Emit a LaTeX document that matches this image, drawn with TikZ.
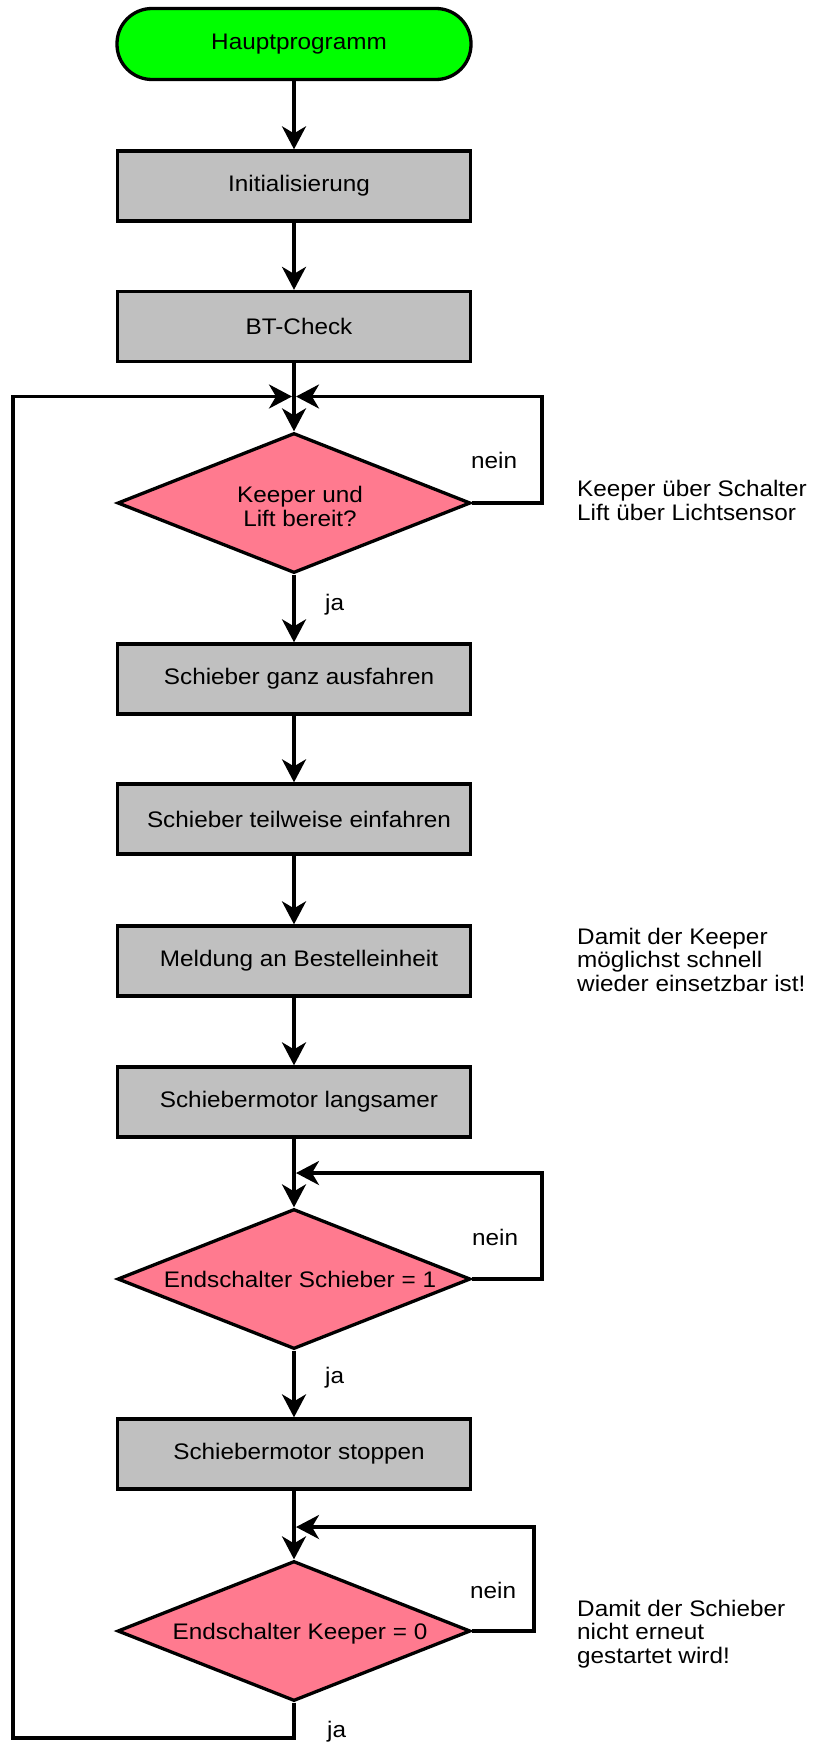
\documentclass[tikz,border=0pt]{standalone}
\usepackage{fontspec}
\setmainfont{Liberation Sans}[FakeStretch=1.08]
\usetikzlibrary{shapes.geometric,arrows.meta}
\definecolor{termgreen}{RGB}{0,255,0}
\definecolor{boxgray}{RGB}{192,192,192}
\definecolor{decpink}{RGB}{255,122,143}

\begin{document}
\begin{tikzpicture}[x=1pt,y=-1pt,
  every node/.style={font=\fontsize{22.5}{23.5}\selectfont},
  ln/.style={line width=3.5pt},
  arr/.style={ln, -{Stealth[length=23pt 0, width=24pt 0, inset=7pt 0]}},
  term/.style={draw, line width=3.3pt, fill=termgreen, rounded corners=35pt,
    minimum width=354pt, minimum height=71pt, inner sep=0pt},
  proc/.style={draw, line width=3.3pt, fill=boxgray, minimum width=353pt,
    minimum height=70pt, inner sep=0pt},
  dec/.style={draw, line width=3.3pt, fill=decpink, diamond, minimum width=353pt,
    minimum height=140pt, inner sep=0pt},
  dtext/.style={inner sep=0pt, align=center, xshift=6pt},
  note/.style={inner sep=0pt, anchor=base west, align=left},
  tag/.style={inner sep=0pt, anchor=base west},
]
\useasboundingbox (0,0) rectangle (815,1742);

% main column
\node[term] (start) at (294,44)    {\hspace*{10pt}Hauptprogramm};
\node[proc] (init)  at (294,186)   {\hspace*{10pt}Initialisierung};
\node[proc] (bt)    at (294,326.5) {\hspace*{10pt}BT-Check};
\node[dec]  (d1)    at (294,503)   {};
\node[dtext, yshift=-3.5pt] (d1t) at (d1.center) {Keeper und\\Lift bereit?};
\node[proc] (p1)    at (294,679)   {\hspace*{10pt}Schieber ganz ausfahren};
\node[proc] (p2)    at (294,819)   {\hspace*{10pt}Schieber teilweise einfahren};
\node[proc] (p3)    at (294,961)   {\hspace*{10pt}Meldung an Bestelleinheit};
\node[proc] (p4)    at (294,1102)  {\hspace*{10pt}Schiebermotor langsamer};
\node[dec]  (d2)    at (294,1279)  {};
\node[dtext, anchor=base, yshift=-8pt] (d2t) at (d2.center) {Endschalter Schieber = 1};
\node[proc] (p5)    at (294,1454)  {\hspace*{10pt}Schiebermotor stoppen};
\node[dec]  (d3)    at (294,1631)  {};
\node[dtext, anchor=base, yshift=-8pt] (d3t) at (d3.center) {Endschalter Keeper = 0};

% junctions and loop corners
\coordinate (j1) at (294,396.5);
\coordinate (r1) at (542,396.5);
\coordinate (l1) at (13,396.5);
\coordinate (b3) at (294,1738);
\coordinate (j2) at (294,1173);
\coordinate (r2) at (542,1173);
\coordinate (j3) at (294,1527);
\coordinate (r3) at (534,1527);

% straight flow
\draw[arr] (start) -- (init);
\draw[arr] (init) -- (bt);
\draw[arr] (bt) -- (d1);
\draw[arr] (d1) -- (p1);
\draw[arr] (p1) -- (p2);
\draw[arr] (p2) -- (p3);
\draw[arr] (p3) -- (p4);
\draw[arr] (p4) -- (d2);
\draw[arr] (d2) -- (p5);
\draw[arr] (p5) -- (d3);

% "nein" loops
\draw[arr, shorten >=2pt] (d1.east) -| (r1) -- (j1);
\draw[arr, shorten >=2pt] (d2.east) -| (r2) -- (j2);
\draw[arr, shorten >=2pt] (d3.east) -| (r3) -- (j3);

% return loop back to the first decision
\draw[arr, shorten >=2pt] (d3.south) -- (b3) -| (l1) -- (j1);

% branch labels
\node[tag] (n1) at (471,468)  {nein};
\node[tag] (y1) at (325,610)  {ja};
\node[tag] (n2) at (472,1245) {nein};
\node[tag] (y2) at (325,1383) {ja};
\node[tag] (n3) at (470,1598) {nein};
\node[tag] (y3) at (327,1737) {ja};

% side notes (anchored at the baseline of their last line)
\node[note] (c1) at (577,520)  {Keeper über Schalter\\Lift über Lichtsensor};
\node[note] (c2) at (577,991)  {Damit der Keeper\\möglichst schnell\\wieder einsetzbar ist!};
\node[note] (c3) at (577,1663) {Damit der Schieber\\nicht erneut\\gestartet wird!};
\end{tikzpicture}
\end{document}
